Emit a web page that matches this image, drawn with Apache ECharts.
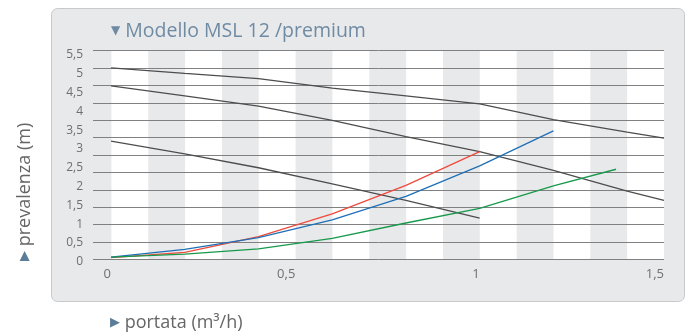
<!DOCTYPE html>
<html>
<head>
<meta charset="utf-8">
<script src="https://cdn.jsdelivr.net/npm/echarts@6/dist/echarts.min.js"></script>
<style>
  html, body { margin: 0; padding: 0; background: #fff; }
  #chart { width: 689px; height: 336px; }
</style>
</head>
<body>
<div id="chart"></div>
<script>
  // portata (m3/h) -> prevalenza (m)
  const curveTopFlow = [0, 0.2, 0.4, 0.6, 0.8, 1.0, 1.2, 1.4, 1.5]
  const curveTopHead = [5.16, 5.01, 4.87, 4.62, 4.41, 4.20, 3.78, 3.45, 3.29]

  const curveMidFlow = [0, 0.2, 0.4, 0.6, 0.8, 1.0, 1.2, 1.4, 1.5]
  const curveMidHead = [4.68, 4.41, 4.14, 3.76, 3.33, 2.93, 2.43, 1.88, 1.63]

  const curveLowFlow = [0, 0.2, 0.4, 0.6, 0.8, 1.0]
  const curveLowHead = [3.21, 2.87, 2.50, 2.07, 1.63, 1.16]

  const redFlow = [0, 0.2, 0.4, 0.6, 0.8, 1.0]
  const redHead = [0.11, 0.25, 0.67, 1.27, 2.03, 2.93]

  const blueFlow = [0, 0.2, 0.4, 0.6, 0.8, 1.0, 1.2]
  const blueHead = [0.12, 0.33, 0.64, 1.11, 1.74, 2.55, 3.48]

  const greenFlow = [0, 0.2, 0.4, 0.6, 0.8, 1.0, 1.2, 1.37]
  const greenHead = [0.12, 0.20, 0.34, 0.62, 1.03, 1.42, 2.02, 2.46]

  // white columns of the background (portata)
  const whiteBands = [[0, 0.1], [0.2, 0.3], [0.4, 0.5], [0.6, 0.7], [0.8, 0.9],
    [1.0, 1.1], [1.2, 1.3], [1.4, 1.5]]

  const FONT = '"Open Sans", sans-serif'
  const LABEL = '#6f6f6f'
  const SLATE = '#6f8ba3'

  const chart = echarts.init(document.getElementById('chart'))

  function pairs(xs, ys) {
    return xs.map((x, i) => [x, ys[i]])
  }

  function comma(v) {
    return String(v).replace('.', ',')
  }

  function curve(xs, ys, color) {
    return {
      type: 'line',
      xAxisIndex: 1,
      yAxisIndex: 1,
      data: pairs(xs, ys),
      symbol: 'none',
      silent: true,
      z: 3,
      lineStyle: {color: color, width: 1.3}
    }
  }

  chart.setOption({
    animation: false,
    title: {
      left: 111,
      top: 21,
      padding: 0,
      text: '{t|▼} Modello MSL 12 /premium',
      textStyle: {
        fontFamily: FONT,
        fontSize: 19.5,
        fontWeight: 'normal',
        color: SLATE,
        rich: {
          t: {fontFamily: 'DejaVu Sans', fontSize: 12, color: SLATE}
        }
      }
    },
    graphic: [
      {
        type: 'rect',
        z: -1,
        shape: {x: 51.5, y: 8.5, width: 633, height: 293, r: 6},
        style: {fill: '#e8e9eb', stroke: '#c8c9cb', lineWidth: 1}
      },
      {
        type: 'text',
        x: 25,
        y: 261,
        rotation: Math.PI / 2,
        style: {
          text: '{t|▶} prevalenza (m)',
          fontFamily: FONT,
          fontSize: 18,
          fill: '#666',
          align: 'left',
          verticalAlign: 'middle',
          rich: {t: {fontFamily: 'DejaVu Sans', fontSize: 13, fill: '#5b7d99'}}
        }
      },
      {
        type: 'text',
        x: 110,
        y: 323,
        style: {
          text: '{t|▶} portata (m³/h)',
          fontFamily: FONT,
          fontSize: 18,
          fill: '#666',
          align: 'left',
          verticalAlign: 'middle',
          rich: {t: {fontFamily: 'DejaVu Sans', fontSize: 13, fill: '#5b7d99'}}
        }
      }
    ],
    grid: [
      {left: 93, right: 25, top: 50.7, bottom: 76.7},
      {left: 111, right: 25, top: 55, bottom: 74.3}
    ],
    xAxis: [
      {gridIndex: 0, type: 'value', min: -0.05, max: 1.5, show: false},
      {
        gridIndex: 1,
        type: 'value',
        min: 0,
        max: 1.5,
        interval: 0.5,
        axisLine: {show: false},
        axisTick: {show: false},
        splitLine: {show: false},
        axisLabel: {align: 'right', margin: 6, color: LABEL, fontSize: 13, fontFamily: FONT, formatter: comma}
      }
    ],
    yAxis: [
      {
        gridIndex: 0,
        type: 'value',
        min: 0,
        max: 6,
        interval: 0.5,
        z: 2,
        axisLabel: {show: false},
        axisLine: {show: false},
        axisTick: {show: false},
        splitLine: {lineStyle: {color: '#808080', width: 1}}
      },
      {
        gridIndex: 1,
        type: 'value',
        min: 0,
        max: 5.5,
        interval: 0.5,
        axisLine: {show: false},
        axisTick: {show: false},
        splitLine: {show: false},
        axisLabel: {margin: 28, color: LABEL, fontSize: 12, fontFamily: FONT, formatter: comma}
      }
    ],
    series: [
      {
        type: 'line',
        xAxisIndex: 0,
        yAxisIndex: 0,
        data: [],
        silent: true,
        markArea: {
          silent: true,
          z: 1,
          itemStyle: {color: '#fff'},
          data: whiteBands.map(b => [{xAxis: b[0]}, {xAxis: b[1]}])
        }
      },
      curve(curveTopFlow, curveTopHead, '#4d4d4d'),
      curve(curveMidFlow, curveMidHead, '#4d4d4d'),
      curve(curveLowFlow, curveLowHead, '#4d4d4d'),
      curve(redFlow, redHead, '#ef4b3d'),
      curve(blueFlow, blueHead, '#1f6fb6'),
      curve(greenFlow, greenHead, '#17994b')
    ]
  })
</script>
</body>
</html>
